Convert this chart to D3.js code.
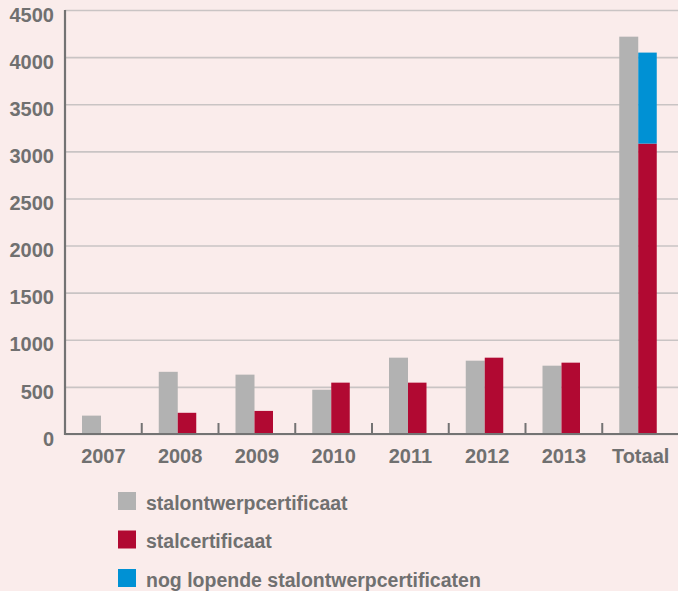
<!DOCTYPE html>
<html>
<head>
<meta charset="utf-8">
<script src="https://cdn.jsdelivr.net/npm/d3@7"></script>
<style>
  html, body { margin: 0; padding: 0; background: #FAECEB; }
  svg { display: block; }
  text { font-family: "Liberation Sans", Arial, sans-serif; font-weight: bold; fill: #707070; }
</style>
</head>
<body>
<svg id="chart" width="678" height="591"></svg>
<script>
const categories = ["2007", "2008", "2009", "2010", "2011", "2012", "2013", "Totaal"];
const stalontwerpcertificaat = [195, 660, 630, 470, 810, 778, 725, 4217];
const stalcertificaat = [0, 225, 245, 545, 545, 810, 757, 3082];
const nogLopende = [0, 0, 0, 0, 0, 0, 0, 966];
const yTicks = [0, 500, 1000, 1500, 2000, 2500, 3000, 3500, 4000, 4500];
const legendLabels = ["stalontwerpcertificaat", "stalcertificaat", "nog lopende stalontwerpcertificaten"];
const colors = ["#B2B2B2", "#B10932", "#0091D4"];

const svg = d3.select("#chart");
const mLeft = 65, mRight = 679, mBottom = 434, mTop = 10;

const x = d3.scaleBand().domain(categories).range([mLeft, mRight]).padding(0);
const sub = d3.scaleBand().domain(["a", "b"]).range([17, 55]).padding(0);
const y = d3.scaleLinear().domain([0, 4500]).range([mBottom, mTop]);

// gridlines + y labels
const yAxis = svg.append("g")
  .attr("transform", `translate(${mLeft},0)`)
  .call(d3.axisLeft(y).tickValues(yTicks).tickSize(-(678 - mLeft)).tickPadding(11).tickFormat(d3.format("d")));
yAxis.select(".domain").remove();
yAxis.selectAll(".tick line").attr("stroke", "#C9C4C4").attr("stroke-width", 1.6);
yAxis.selectAll(".tick text").attr("font-size", 20).attr("dy", "0.56em").attr("fill", "#707070")
  .style("font-family", "'Liberation Sans', Arial, sans-serif").style("font-weight", "bold");

// bars
const data = categories.map((c, i) => ({ c, g: stalontwerpcertificaat[i], r: stalcertificaat[i], b: nogLopende[i] }));
const groups = svg.append("g").selectAll("g").data(data).join("g")
  .attr("transform", d => `translate(${x(d.c)},0)`);
groups.append("rect")
  .attr("x", sub("a")).attr("width", sub.bandwidth())
  .attr("y", d => y(d.g)).attr("height", d => y(0) - y(d.g)).attr("fill", colors[0]);
groups.append("rect")
  .attr("x", sub("b")).attr("width", sub.bandwidth() - 0.5)
  .attr("y", d => y(d.r)).attr("height", d => y(0) - y(d.r)).attr("fill", colors[1]);
groups.filter(d => d.b > 0).append("rect")
  .attr("x", sub("b")).attr("width", sub.bandwidth() - 0.5)
  .attr("y", d => y(d.r + d.b)).attr("height", d => y(d.r) - y(d.r + d.b)).attr("fill", colors[2]);

// x axis
const xAxis = svg.append("g")
  .attr("transform", `translate(0,${mBottom})`)
  .call(d3.axisBottom(x).tickSize(0).tickPadding(15));
xAxis.select(".domain").remove();
xAxis.selectAll(".tick text").attr("font-size", 20).attr("fill", "#707070")
  .style("font-family", "'Liberation Sans', Arial, sans-serif").style("font-weight", "bold");

svg.append("line").attr("x1", mLeft - 1).attr("x2", 678).attr("y1", mBottom).attr("y2", mBottom)
  .attr("stroke", "#737373").attr("stroke-width", 2.2);
svg.append("g").selectAll("line").data(categories).join("line")
  .attr("x1", d => x(d) + x.bandwidth()).attr("x2", d => x(d) + x.bandwidth())
  .attr("y1", mBottom).attr("y2", mBottom - 11)
  .attr("stroke", "#737373").attr("stroke-width", 2);
svg.append("line").attr("x1", mLeft).attr("x2", mLeft).attr("y1", mTop).attr("y2", mBottom + 1)
  .attr("stroke", "#737373").attr("stroke-width", 2.2);

// legend
const lg = svg.append("g").selectAll("g").data(legendLabels).join("g")
  .attr("transform", (d, i) => `translate(118,${492 + i * 38.5})`);
lg.append("rect").attr("width", 18).attr("height", 18).attr("fill", (d, i) => colors[i]);
lg.append("text").attr("x", 28).attr("y", 17.5).attr("font-size", 19.5).text(d => d);
</script>
</body>
</html>
